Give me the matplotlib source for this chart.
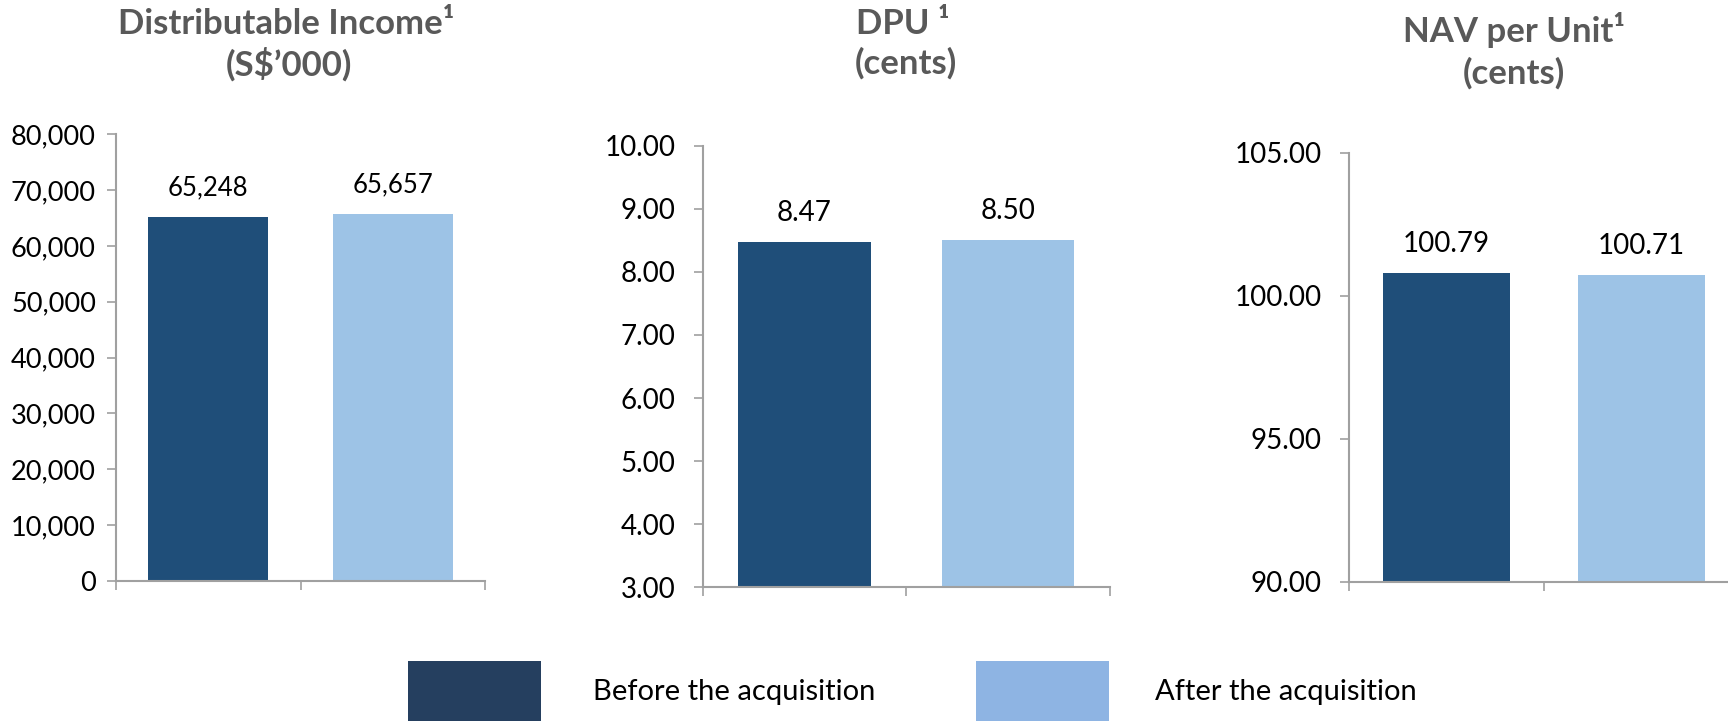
import matplotlib
matplotlib.use("Agg")
import matplotlib.pyplot as plt
from matplotlib.patches import Rectangle
from matplotlib.ticker import FuncFormatter

plt.rcParams['font.family'] = ['Lato', 'DejaVu Sans']

series = ['Before the acquisition', 'After the acquisition']
income = [65248, 65657]
dpu = [8.47, 8.50]
nav = [100.79, 100.71]

income_ticks = [0, 10000, 20000, 30000, 40000, 50000, 60000, 70000, 80000]
dpu_ticks = [3, 4, 5, 6, 7, 8, 9, 10]
nav_ticks = [90, 95, 100, 105]

dark = '#1F4E79'
light = '#9DC3E6'
legend_dark = '#253F5F'
legend_light = '#8EB4E3'
axis_grey = '#A0A0A0'
title_grey = '#595959'

W, H = 1728, 721
fig = plt.figure(figsize=(W / 100, H / 100), dpi=100)


def px_box(x0, x1, ytop, ybot):
    return [x0 / W, 1 - ybot / H, (x1 - x0) / W, (ybot - ytop) / H]


def panel(rect, values, ticks, fmt, fsize, vsize, pad):
    ax = fig.add_axes(rect)
    ax.bar([0.5, 1.5], values, width=0.65, color=[dark, light], zorder=2)
    ax.set_xlim(0, 2)
    ax.set_ylim(ticks[0], ticks[-1])
    ax.set_yticks(ticks)
    ax.yaxis.set_major_formatter(FuncFormatter(lambda v, p: fmt.format(v)))
    ax.set_xticks([0, 1, 2])
    ax.set_xticklabels([])
    for s in ['top', 'right']:
        ax.spines[s].set_visible(False)
    for s in ['left', 'bottom']:
        ax.spines[s].set_color(axis_grey)
        ax.spines[s].set_linewidth(1.5)
    ax.tick_params(axis='y', direction='out', length=6.5, width=1.2,
                   color=axis_grey, labelsize=fsize, pad=pad)
    ax.tick_params(axis='x', direction='out', length=6.5, width=1.2,
                   color=axis_grey)
    ax.patch.set_alpha(0)
    for x, v in zip([0.5, 1.5], values):
        ax.annotate(fmt.format(v), (x, v), xytext=(0, 21),
                    textcoords='offset points', ha='center', va='center',
                    fontsize=vsize)
    return ax


panel(px_box(116, 485, 134.3, 580.7), income, income_ticks, '{:,.0f}', 19.5, 18.5, 8)
panel(px_box(702.7, 1110, 145.7, 587.3), dpu, dpu_ticks, '{:.2f}', 20, 20, 13)
panel(px_box(1349, 1739, 152.7, 581.5), nav, nav_ticks, '{:.2f}', 20, 20, 13)

# chart titles
tkw = dict(ha='center', va='center', fontsize=25, fontweight='bold', color=title_grey)
fig.text(286 / W, 1 - 24 / H, 'Distributable Income¹', **tkw)
fig.text(289 / W, 1 - 64 / H, '(S$’000)', **tkw)
fig.text(903 / W, 1 - 24 / H, 'DPU ¹', **tkw)
fig.text(906 / W, 1 - 63 / H, '(cents)', **tkw)
fig.text(1514 / W, 1 - 30 / H, 'NAV per Unit¹', **tkw)
fig.text(1514 / W, 1 - 73 / H, '(cents)', **tkw)

# legend
for x0, c, label, tx in [(408, legend_dark, series[0], 593),
                         (976, legend_light, series[1], 1155)]:
    fig.add_artist(Rectangle((x0 / W, 0), 133 / W, (H - 661) / H,
                             transform=fig.transFigure, color=c, lw=0))
    fig.text(tx / W, 1 - 692 / H, label, ha='left', va='center', fontsize=21)

fig.savefig('out.png', dpi=100)
